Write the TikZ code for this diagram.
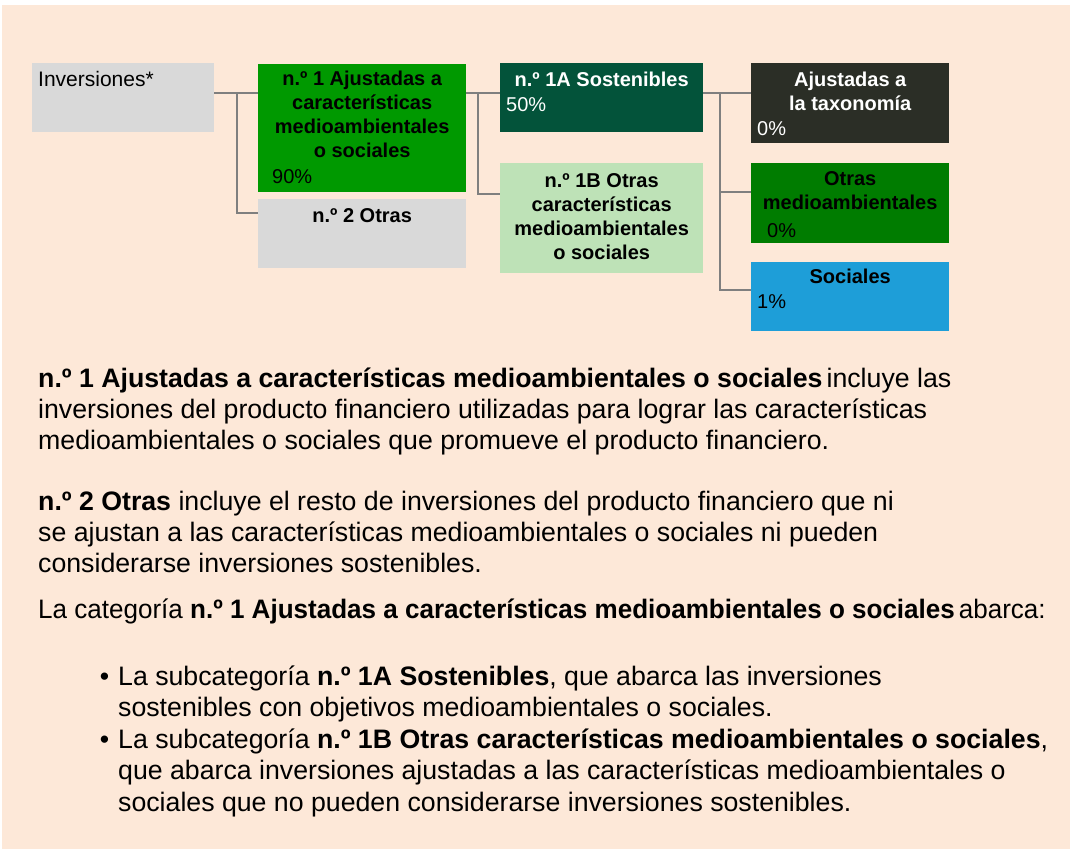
\documentclass[tikz,border=0pt]{standalone}
\usepackage{fontspec}
\usepackage{graphicx}
\setmainfont{Liberation Sans}
\definecolor{hintergrund}{HTML}{FDE8D8}
\definecolor{grau}{HTML}{D9D9D9}
\definecolor{linie}{HTML}{7F7F7F}
\definecolor{gruen}{HTML}{009900}
\definecolor{dunkelgruen}{HTML}{03533A}
\definecolor{hellgruen}{HTML}{BEE2B7}
\definecolor{schwarzgruen}{HTML}{2B2E26}
\definecolor{mittelgruen}{HTML}{007C00}
\definecolor{blau}{HTML}{1E9ED8}
\begin{document}
\begin{tikzpicture}[x=1pt,y=-1pt]
  \tikzstyle{kasten}=[inner sep=0pt,anchor=north west]
  \tikzstyle{verbindung}=[draw=linie,line width=2.5pt]
  \tikzstyle{titel}=[font=\fontsize{20}{24}\selectfont\bfseries,align=center,inner sep=0pt,anchor=base]
  \tikzstyle{wert}=[font=\fontsize{20}{24}\selectfont,inner sep=0pt,anchor=base west]
  \tikzstyle{fliesstext}=[font=\fontsize{26.7}{31}\selectfont,align=left,inner sep=0pt,anchor=base west]

  % Hintergrund
  \useasboundingbox[fill=white] (0,0) rectangle (1070,849);
  \fill[hintergrund] (2,5) rectangle (1070,849);

  % Kaesten
  \node[kasten,fill=grau,minimum width=182pt,minimum height=69pt] (inv) at (32,63) {};
  \node[kasten,fill=gruen,minimum width=208pt,minimum height=128pt] (ajus1) at (258,64) {};
  \node[kasten,fill=grau,minimum width=208pt,minimum height=69pt] (otras2) at (258,199) {};
  \node[kasten,fill=dunkelgruen,minimum width=203pt,minimum height=69pt] (sost1a) at (500,63) {};
  \node[kasten,fill=hellgruen,minimum width=203pt,minimum height=110pt] (otras1b) at (500,163) {};
  \node[kasten,fill=schwarzgruen,minimum width=198pt,minimum height=80pt] (taxo) at (751,63) {};
  \node[kasten,fill=mittelgruen,minimum width=198pt,minimum height=80pt] (medio) at (751,163) {};
  \node[kasten,fill=blau,minimum width=198pt,minimum height=69pt] (soc) at (751,262) {};

  % Beschriftungen (base = letzte Zeile)
  \node[wert,font=\fontsize{21}{24}\selectfont] (inv-titel) at ([xshift=6pt,yshift=-23pt]inv.north west) {Inversiones*};
  \node[titel] (ajus1-titel) at ([yshift=-93pt]ajus1.north) {n.º 1 Ajustadas a\\características\\medioambientales\\o sociales};
  \node[wert] (ajus1-wert) at ([xshift=14pt,yshift=-119pt]ajus1.north west) {90\%};
  \node[titel] (otras2-titel) at ([yshift=-23pt]otras2.north) {n.º 2 Otras};
  \node[titel,text=white] (sost1a-titel) at ([yshift=-23pt]sost1a.north) {n.º 1A Sostenibles};
  \node[wert,text=white] (sost1a-wert) at ([xshift=6pt,yshift=-48pt]sost1a.north west) {50\%};
  \node[titel] (otras1b-titel) at ([yshift=-96pt]otras1b.north) {n.º 1B Otras\\características\\medioambientales\\o sociales};
  \node[titel,text=white] (taxo-titel) at ([yshift=-47pt]taxo.north) {Ajustadas a\\la taxonomía};
  \node[wert,text=white] (taxo-wert) at ([xshift=6pt,yshift=-72pt]taxo.north west) {0\%};
  \node[titel] (medio-titel) at ([yshift=-46pt]medio.north) {Otras\\medioambientales};
  \node[wert] (medio-wert) at ([xshift=16pt,yshift=-74pt]medio.north west) {0\%};
  \node[titel] (soc-titel) at ([yshift=-21pt]soc.north) {Sociales};
  \node[wert] (soc-wert) at ([xshift=6pt,yshift=-46pt]soc.north west) {1\%};

  % Verbindungen
  \coordinate (gabel1) at (237,93);
  \coordinate (gabel2) at (478,93);
  \coordinate (gabel3) at (720,93);
  \draw[verbindung] (inv.east |- gabel1) -- (ajus1.west |- gabel1);
  \draw[verbindung] (gabel1) |- ([yshift=-14pt]otras2.north west);
  \draw[verbindung] (ajus1.east |- gabel2) -- (sost1a.west |- gabel2);
  \draw[verbindung] (gabel2) |- ([yshift=-31pt]otras1b.north west);
  \draw[verbindung] (sost1a.east |- gabel3) -- (taxo.west |- gabel3);
  \draw[verbindung] (gabel3) |- ([yshift=-29pt]medio.north west);
  \draw[verbindung] (gabel3) |- ([yshift=-28pt]soc.north west);

  % Erlaeuterungen
  \node[fliesstext] (absatz1) at (38,449) {\textbf{n.º 1 Ajustadas a características medioambientales o sociales}\hspace{4pt}incluye las\\inversiones del producto financiero utilizadas para lograr las características\\medioambientales o sociales que promueve el producto financiero.};
  \node[fliesstext] (absatz2) at (38,572) {\textbf{n.º 2 Otras} incluye el resto de inversiones del producto financiero que ni\\se ajustan a las características medioambientales o sociales ni pueden\\considerarse inversiones sostenibles.};
  \node[fliesstext] (absatz3) at (38,618) {\scalebox{0.975}[1]{La categoría \textbf{n.º 1 Ajustadas a características medioambientales o sociales}\hspace{4pt}abarca:}};
  \node[fliesstext,font=\fontsize{26.7}{31.5}\selectfont] (liste) at (118,811) {\llap{•\hspace{9pt}}La subcategoría \textbf{n.º 1A Sostenibles}, que abarca las inversiones\\sostenibles con objetivos medioambientales o sociales.\\\llap{•\hspace{9pt}}La subcategoría \textbf{n.º 1B Otras características medioambientales o sociales},\\que abarca inversiones ajustadas a las características medioambientales o\\sociales que no pueden considerarse inversiones sostenibles.};
\end{tikzpicture}
\end{document}
